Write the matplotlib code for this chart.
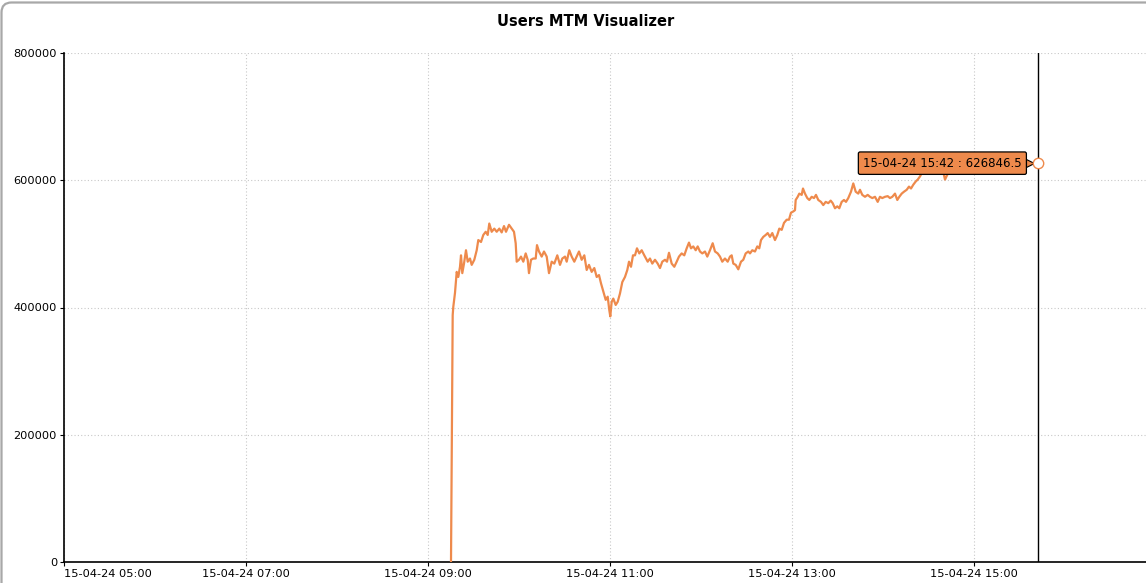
import pandas as pd
import matplotlib
matplotlib.use("Agg")
import matplotlib.pyplot as plt
import matplotlib.dates as mdates
from matplotlib.patches import FancyBboxPatch
from matplotlib.transforms import IdentityTransform, offset_copy

DAY = "2024-04-15"

# MTM samples (time, value)
times = [
    "09:15:10", "09:16:17", "09:16:41", "09:17:48", "09:18:56", "09:19:59", "09:21:06", "09:21:46",
    "09:22:37", "09:23:44", "09:25:03", "09:26:11", "09:27:41", "09:28:49", "09:30:32", "09:32:07",
    "09:33:10", "09:34:57", "09:36:28", "09:38:02", "09:39:22", "09:40:25", "09:42:00", "09:43:43",
    "09:45:18", "09:47:01", "09:48:35", "09:50:07", "09:51:26", "09:53:25", "09:55:11", "09:56:42",
    "09:57:49", "09:58:29", "10:00:00", "10:01:19", "10:02:50", "10:04:25", "10:05:44", "10:06:35",
    "10:07:55", "10:09:26", "10:11:01", "10:11:52", "10:13:11", "10:14:58", "10:16:29", "10:18:16",
    "10:19:47", "10:21:34", "10:23:16", "10:25:15", "10:27:02", "10:28:33", "10:30:20", "10:31:27",
    "10:33:10", "10:34:45", "10:36:28", "10:38:02", "10:39:34", "10:41:20", "10:43:04", "10:44:38",
    "10:46:09", "10:47:56", "10:49:39", "10:51:14", "10:52:45", "10:54:04", "10:55:35", "10:57:10",
    "10:58:29", "10:59:32", "11:00:12", "11:01:07", "11:02:11", "11:03:46", "11:05:05", "11:06:35",
    "11:08:07", "11:09:53", "11:11:25", "11:12:32", "11:13:51", "11:15:10", "11:16:29", "11:17:48",
    "11:19:19", "11:20:54", "11:22:37", "11:24:52", "11:26:22", "11:27:53", "11:29:40", "11:31:27",
    "11:32:58", "11:34:29", "11:36:16", "11:37:35", "11:38:54", "11:40:41", "11:42:24", "11:43:59",
    "11:45:29", "11:47:16", "11:48:59", "11:50:34", "11:52:05", "11:53:25", "11:54:55", "11:56:31",
    "11:57:49", "11:59:20", "12:00:52", "12:02:38", "12:04:09", "12:05:56", "12:07:43", "12:09:14",
    "12:11:01", "12:12:32", "12:14:02", "12:15:49", "12:17:36", "12:19:07", "12:20:14", "12:21:18",
    "12:22:53", "12:24:36", "12:26:22", "12:27:53", "12:29:28", "12:31:11", "12:32:19", "12:33:49",
    "12:35:36", "12:37:07", "12:38:26", "12:39:34", "12:41:05", "12:42:40", "12:43:59", "12:45:29",
    "12:47:01", "12:48:47", "12:50:19", "12:51:38", "12:53:13", "12:54:44", "12:56:31", "12:58:01",
    "12:59:20", "13:00:52", "13:01:59", "13:02:26", "13:03:46", "13:04:49", "13:06:24", "13:07:15",
    "13:08:34", "13:10:05", "13:11:25", "13:12:59", "13:14:31", "13:15:49", "13:17:20", "13:19:07",
    "13:20:38", "13:22:13", "13:23:56", "13:25:31", "13:26:50", "13:28:21", "13:29:52", "13:31:11",
    "13:32:46", "13:34:17", "13:35:36", "13:37:07", "13:38:54", "13:40:25", "13:42:00", "13:43:43",
    "13:44:50", "13:46:21", "13:48:08", "13:49:55", "13:51:26", "13:52:57", "13:54:44", "13:56:31",
    "13:58:01", "13:59:32", "14:01:19", "14:03:06", "14:04:37", "14:06:08", "14:07:55", "14:09:26",
    "14:10:45", "14:12:20", "14:13:51", "14:15:38", "14:17:08", "14:18:28", "14:19:59", "14:21:34",
    "14:22:53", "14:24:24", "14:25:31", "14:27:41", "14:32:07", "14:36:28", "14:39:46", "14:40:53",
    "14:42:40", "14:44:11", "15:00:00", "15:20:00", "15:42:00",
]
mtm = [
    0, 388000, 401000, 423000, 456000, 448000, 464000, 482000,
    454000, 469000, 490000, 472000, 477000, 467000, 475000, 490000,
    506000, 503000, 514000, 519000, 514000, 532000, 519000, 524000,
    519000, 524000, 518000, 528000, 519000, 530000, 524000, 519000,
    501000, 472000, 475000, 480000, 472000, 485000, 475000, 454000,
    475000, 477000, 477000, 498000, 488000, 480000, 488000, 480000,
    454000, 472000, 469000, 482000, 467000, 477000, 480000, 472000,
    490000, 480000, 472000, 480000, 488000, 475000, 482000, 459000,
    467000, 456000, 462000, 448000, 451000, 438000, 425000, 412000,
    417000, 396000, 386000, 409000, 414000, 404000, 409000, 422000,
    440000, 448000, 459000, 472000, 464000, 482000, 482000, 493000,
    485000, 490000, 482000, 472000, 477000, 469000, 475000, 469000,
    462000, 472000, 475000, 472000, 486000, 469000, 464000, 472000,
    480000, 485000, 482000, 493000, 502000, 493000, 496000, 490000,
    496000, 488000, 485000, 488000, 480000, 490000, 501000, 488000,
    485000, 480000, 472000, 477000, 472000, 480000, 482000, 469000,
    467000, 460000, 472000, 475000, 485000, 488000, 485000, 490000,
    488000, 496000, 493000, 506000, 511000, 514000, 517000, 511000,
    517000, 506000, 514000, 524000, 522000, 533000, 538000, 538000,
    549000, 551000, 553000, 569000, 574000, 579000, 577000, 587000,
    579000, 572000, 569000, 574000, 572000, 577000, 569000, 566000,
    561000, 566000, 564000, 568000, 564000, 556000, 559000, 556000,
    566000, 569000, 566000, 572000, 582000, 595000, 582000, 579000,
    585000, 577000, 574000, 577000, 574000, 572000, 574000, 566000,
    574000, 572000, 574000, 575000, 572000, 574000, 579000, 569000,
    574000, 579000, 582000, 585000, 590000, 587000, 593000, 598000,
    601000, 606000, 611000, 611000, 612000, 611000, 613000, 601000,
    610000, 613000, 617000, 621000, 626846.5,
]
x_ticks = ["05:00", "07:00", "09:00", "11:00", "13:00", "15:00"]
y_ticks = [0, 200000, 400000, 600000, 800000]

ORANGE = "#ee8a4c"

df = pd.DataFrame({"t": pd.to_datetime([f"{DAY} {t}" for t in times]), "v": mtm})

W, H = 1146, 583
fig = plt.figure(figsize=(W / 100, H / 100), dpi=100)

# rounded panel border (top-left corner visible)
border = FancyBboxPatch((1.5, -30), 1300, H - 2.5 + 30,
                        boxstyle="round,pad=0,rounding_size=10",
                        transform=IdentityTransform(), fill=False,
                        edgecolor="#a8a8a8", linewidth=1.6)
fig.add_artist(border)

ax = fig.add_axes([64 / W, 21 / H, (W - 64) / W, 509 / H])
ax.plot(df.t, df.v, color=ORANGE, lw=1.6, zorder=3)

ax.set_xlim(pd.Timestamp(f"{DAY} 05:00"), pd.Timestamp(f"{DAY} 16:53:25"))
ax.set_ylim(0, 800000)
ax.set_yticks(y_ticks)
ax.set_yticklabels([str(v) for v in y_ticks])
ax.set_xticks(pd.to_datetime([f"{DAY} {t}" for t in x_ticks]))
ax.xaxis.set_major_formatter(mdates.DateFormatter("%d-%m-%y %H:%M"))

for s in ["top", "right"]:
    ax.spines[s].set_visible(False)
for s in ["left", "bottom"]:
    ax.spines[s].set_linewidth(1.2)
ax.tick_params(labelsize=8.2, length=3, width=0.8, pad=2)
ax.grid(True, color="#c8c8c8", linestyle=(0, (1, 2)), linewidth=0.8)
ax.set_axisbelow(True)
ax.get_xticklabels()[0].set_horizontalalignment("left")

fig.text(586 / W, 1 - 21 / H, "Users MTM Visualizer", ha="center", va="center",
         fontsize=10.5, fontweight="bold")

# crosshair + tooltip on last point
t_last, v_last = df.t.iloc[-1], df.v.iloc[-1]
ax.axvline(t_last, color="black", lw=1, zorder=4)
ax.annotate(f"{t_last:%d-%m-%y %H:%M} : {v_last}", xy=(t_last, v_last),
            xytext=(-16, 0), textcoords="offset pixels", ha="right", va="center",
            fontsize=8.5, zorder=6,
            bbox=dict(boxstyle="round,pad=0.4,rounding_size=0.15", fc=ORANGE, ec="black", lw=0.9))
tri = offset_copy(ax.transData, fig=fig, x=-8, y=0, units="dots")
ax.plot([t_last], [v_last], marker=">", ms=6, color=ORANGE, mec="black", mew=0.8,
        transform=tri, zorder=5.5)
ax.plot([t_last], [v_last], marker="o", ms=7.5, mfc="white", mec=ORANGE, mew=1, zorder=8, clip_on=False)

fig.savefig("out.png", dpi=100)
